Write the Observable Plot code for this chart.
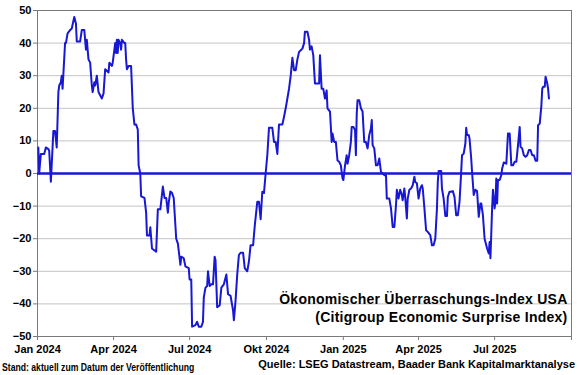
<!DOCTYPE html>
<html><head><meta charset="utf-8">
<script src="https://cdn.jsdelivr.net/npm/d3@7"></script>
<script src="https://cdn.jsdelivr.net/npm/@observablehq/plot@0.6"></script>
<style>
html,body{margin:0;padding:0;background:#fff;}
#wrap{position:relative;width:580px;height:375px;overflow:hidden;font-family:Arial,"Liberation Sans",sans-serif;}
#chart{position:absolute;left:0;top:0;}
#stand{position:absolute;left:2px;top:362px;font:bold 10px Arial,"Liberation Sans",sans-serif;color:#000;white-space:nowrap;transform:scaleX(0.865);transform-origin:0 0;}
#quelle{position:absolute;right:5px;top:358px;font:bold 11px Arial,"Liberation Sans",sans-serif;color:#000;white-space:nowrap;}
</style></head>
<body>
<div id="wrap"><div id="chart"></div><div id="stand"></div><div id="quelle"></div></div>
<script>
const dates = [
"2024-01-02","2024-01-03","2024-01-05","2024-01-09","2024-01-10","2024-01-11","2024-01-14","2024-01-15","2024-01-17","2024-01-20",
"2024-01-22","2024-01-24","2024-01-26","2024-01-27","2024-01-29","2024-01-30","2024-01-31","2024-02-03","2024-02-04","2024-02-06",
"2024-02-09","2024-02-11","2024-02-14","2024-02-16","2024-02-17","2024-02-21","2024-02-23","2024-02-26","2024-02-28","2024-02-29",
"2024-03-02","2024-03-04","2024-03-06","2024-03-07","2024-03-09","2024-03-10","2024-03-12","2024-03-14","2024-03-16","2024-03-18",
"2024-03-20","2024-03-22","2024-03-26","2024-03-27","2024-03-30","2024-03-31","2024-04-03","2024-04-04","2024-04-05","2024-04-06",
"2024-04-07","2024-04-09","2024-04-10","2024-04-11","2024-04-14","2024-04-15","2024-04-16","2024-04-17","2024-04-19","2024-04-22",
"2024-04-24","2024-04-26","2024-04-28","2024-04-30","2024-05-01","2024-05-03","2024-05-04","2024-05-08","2024-05-10","2024-05-11",
"2024-05-14","2024-05-15","2024-05-17","2024-05-22","2024-05-24","2024-05-27","2024-05-30","2024-06-01","2024-06-03","2024-06-05",
"2024-06-06","2024-06-08","2024-06-10","2024-06-12","2024-06-15","2024-06-17","2024-06-20","2024-06-21","2024-06-24","2024-06-26",
"2024-06-30","2024-07-01","2024-07-03","2024-07-04","2024-07-08","2024-07-10","2024-07-12","2024-07-15","2024-07-17","2024-07-18",
"2024-07-20","2024-07-22","2024-07-23","2024-07-25","2024-07-27","2024-07-29","2024-07-31","2024-08-01","2024-08-03","2024-08-06",
"2024-08-08","2024-08-11","2024-08-14","2024-08-16","2024-08-19","2024-08-22","2024-08-23","2024-08-25","2024-08-27","2024-08-29",
"2024-08-31","2024-09-03","2024-09-05","2024-09-08","2024-09-10","2024-09-12","2024-09-15","2024-09-17","2024-09-20","2024-09-22",
"2024-09-24","2024-09-26","2024-09-28","2024-09-30","2024-10-02","2024-10-04","2024-10-08","2024-10-10","2024-10-12","2024-10-14",
"2024-10-16","2024-10-20","2024-10-22","2024-10-24","2024-10-26","2024-10-28","2024-10-30","2024-11-01","2024-11-03","2024-11-05",
"2024-11-07","2024-11-09","2024-11-11","2024-11-13","2024-11-15","2024-11-16","2024-11-19","2024-11-21","2024-11-22","2024-11-24",
"2024-11-26","2024-11-28","2024-12-01","2024-12-03","2024-12-04","2024-12-06","2024-12-08","2024-12-09","2024-12-10","2024-12-12",
"2024-12-13","2024-12-16","2024-12-18","2024-12-19","2024-12-21","2024-12-23","2024-12-25","2024-12-27","2024-12-29","2024-12-31",
"2025-01-01","2025-01-03","2025-01-05","2025-01-06","2025-01-08","2025-01-10","2025-01-11","2025-01-13","2025-01-15","2025-01-16",
"2025-01-17","2025-01-18","2025-01-20","2025-01-22","2025-01-24","2025-01-26","2025-01-28","2025-01-30","2025-02-01","2025-02-03",
"2025-02-04","2025-02-05","2025-02-07","2025-02-09","2025-02-11","2025-02-13","2025-02-15","2025-02-17","2025-02-19","2025-02-21",
"2025-02-22","2025-02-25","2025-02-27","2025-03-01","2025-03-03","2025-03-05","2025-03-06","2025-03-08","2025-03-10","2025-03-12",
"2025-03-13","2025-03-15","2025-03-16","2025-03-18","2025-03-19","2025-03-21","2025-03-23","2025-03-25","2025-03-27","2025-03-28",
"2025-03-30","2025-04-01","2025-04-03","2025-04-05","2025-04-06","2025-04-08","2025-04-10","2025-04-12","2025-04-15","2025-04-17",
"2025-04-19","2025-04-21","2025-04-23","2025-04-24","2025-04-25","2025-04-28","2025-04-29","2025-05-01","2025-05-03","2025-05-05",
"2025-05-06","2025-05-08","2025-05-10","2025-05-12","2025-05-14","2025-05-16","2025-05-18","2025-05-20","2025-05-22","2025-05-23",
"2025-05-25","2025-05-27","2025-05-28","2025-05-29","2025-05-31","2025-06-01","2025-06-03","2025-06-04","2025-06-06","2025-06-08",
"2025-06-10","2025-06-12","2025-06-14","2025-06-15","2025-06-17","2025-06-19","2025-06-20","2025-06-22","2025-06-24","2025-06-25",
"2025-06-26","2025-06-28","2025-06-29","2025-07-01","2025-07-02","2025-07-03","2025-07-04","2025-07-05","2025-07-07","2025-07-09",
"2025-07-10","2025-07-12","2025-07-15","2025-07-17","2025-07-19","2025-07-21","2025-07-23","2025-07-25","2025-07-27","2025-07-29",
"2025-07-31","2025-08-01","2025-08-03","2025-08-05","2025-08-07","2025-08-09","2025-08-11","2025-08-13","2025-08-15","2025-08-17",
"2025-08-19","2025-08-21","2025-08-22","2025-08-24","2025-08-26","2025-08-27","2025-08-28","2025-08-30","2025-08-31","2025-09-02",
"2025-09-03","2025-09-04"
];
const values = [
8,0,6,6,7,8,7.5,7,-2.5,13,
13,8,25,27,28,30,26,40,40,43,
44,44.5,48,46,40.5,40.5,44,44,38,41,
35,34,27,25,28,27,30,25,24,23,
24.5,32,31,34,33,34,40,37,41,37,
41,40,38,41,40,40,35,32,33,33,
20,15,15,13.5,2.5,0,-7,-7.5,-12,-19,
-19,-16.5,-23,-24,-11,-11,-4,-7.5,-7.5,-12,
-9,-5.5,-6,-7.5,-20,-21.5,-28,-25.5,-26,-28.5,
-29,-32.5,-32.5,-47,-46.5,-45.5,-47,-47,-45.5,-38,
-35,-34.5,-30,-34.5,-34,-34,-25.5,-26.5,-41,-40.5,
-35,-34,-31,-37,-37.5,-42,-45,-39,-31,-25,
-24.3,-24.3,-29,-30,-27,-22,-22,-16,-8.7,-8.7,
-14,-5.6,-6,0,5.6,14,14,9.7,9.7,6,
15,15,17.4,20,23,26,30,35.5,31.7,31.7,
35,37.3,37.8,38.3,40,43.5,43.5,41,38,39,
36.3,27.6,27.6,27.6,36.3,26,26,24.5,23,25.5,
20,19,9.7,12.3,9.7,9.7,4,3.6,2.5,-1.5,
-2,2.5,5.6,3,5.6,9.7,14.3,14.3,13.3,5.6,
18.4,22.5,22.5,20,19,9.7,9.7,7.7,11.8,13.8,
16.4,8.7,7.7,2.5,2.5,4.6,0.5,0,-0.5,-0.5,
-7.7,-7.7,-10.7,-16.4,-16.4,-9.7,-5,-7.7,-5,-6.6,
-8.2,-4.6,-7.2,-13.8,-7.7,-5,-4.6,-3.6,-1,-2.6,
-3,-7.7,-4.6,-3.6,-4.6,-10.7,-17.4,-17.9,-18.9,-22,
-22,-20,-10.7,-2.6,0.8,0.8,-4.6,-7.7,-13,-13,
-7.2,-5.6,-5.6,-5.4,-7.2,-12.8,-12.8,-8.7,0.5,5.6,
6.1,9.2,14,11.8,11.8,10.7,4.6,0.5,-6.6,-5,
-5.4,-13.3,-9.2,-9.2,-12.8,-20,-21,-23,-24.5,-21,
-26,-10.7,-5,-10.7,-8.7,-1.5,-9.2,-2,-2,-0.5,
1.5,3.4,3,12.3,12.3,2.5,2.5,3.6,3.6,8.7,
14.3,8.2,7.7,5.6,5.1,5.6,7.2,7.2,5.6,5.6,
3.9,3.9,14.8,15.3,21,26,26.6,26.6,29.7,27.6,
26,23
];
const yTicks = [-50,-40,-30,-20,-10,0,10,20,30,40,50];
const xTickDates = ["2024-01-01","2024-04-01","2024-07-01","2024-10-01","2025-01-01","2025-04-01","2025-07-01","2025-10-01"];
const xTickLabels = ["Jan 2024","Apr 2024","Jul 2024","Okt 2024","Jan 2025","Apr 2025","Jul 2025",""];
const xDomain = ["2024-01-01","2025-10-01"];
const titleLines = ["Ökonomischer Überraschungs-Index USA","(Citigroup Economic Surprise Index)"];
const standText = "Stand: aktuell zum Datum der Veröffentlichung";
const quelleText = "Quelle: LSEG Datastream, Baader Bank Kapitalmarktanalyse";

const data = dates.map((d, i) => ({date: new Date(d), value: values[i]}));
const blue = "#1717d4";

const chart = Plot.plot({
  width: 580,
  height: 358,
  marginLeft: 37,
  marginRight: 9,
  marginTop: 10,
  marginBottom: 22,
  style: {fontFamily: "Arial, 'Liberation Sans', sans-serif", fontSize: "11px", fontWeight: "bold", color: "#000", background: "#fff"},
  x: {type: "utc", domain: xDomain.map(d => new Date(d))},
  y: {domain: [-50, 50]},
  marks: [
    Plot.gridY(yTicks.filter(v => v !== 0 && Math.abs(v) !== 50), {stroke: "#c4c4c4", strokeOpacity: 1, strokeWidth: 1}),
    Plot.frame({stroke: "#7a7a7a", strokeWidth: 1}),
    Plot.axisY({ticks: yTicks, tickSize: 4, tickPadding: 2, stroke: "#7a7a7a", label: null, fill: "#000"}),
    Plot.axisX({ticks: xTickDates.map(d => new Date(d)), tickFormat: (d, i) => xTickLabels[i], tickSize: 4, tickPadding: 5, stroke: "#7a7a7a", label: null, fill: "#000"}),
    Plot.ruleY([0], {stroke: blue, strokeWidth: 2.5}),
    Plot.line(data, {x: "date", y: "value", stroke: blue, strokeWidth: 2, curve: "linear"}),
    Plot.text([titleLines.join("\n")], {frameAnchor: "bottom-right", textAnchor: "end", lineAnchor: "bottom", dx: -4, dy: -15, fontSize: 14, fontWeight: "bold", fill: "#000", lineHeight: 1.25, className: "chart-title"})
  ]
});
chart.querySelectorAll(".chart-title text").forEach(t => t.style.letterSpacing = "0.25px");
document.getElementById("chart").appendChild(chart);
document.getElementById("stand").textContent = standText;
document.getElementById("quelle").textContent = quelleText;
</script>
</body></html>
